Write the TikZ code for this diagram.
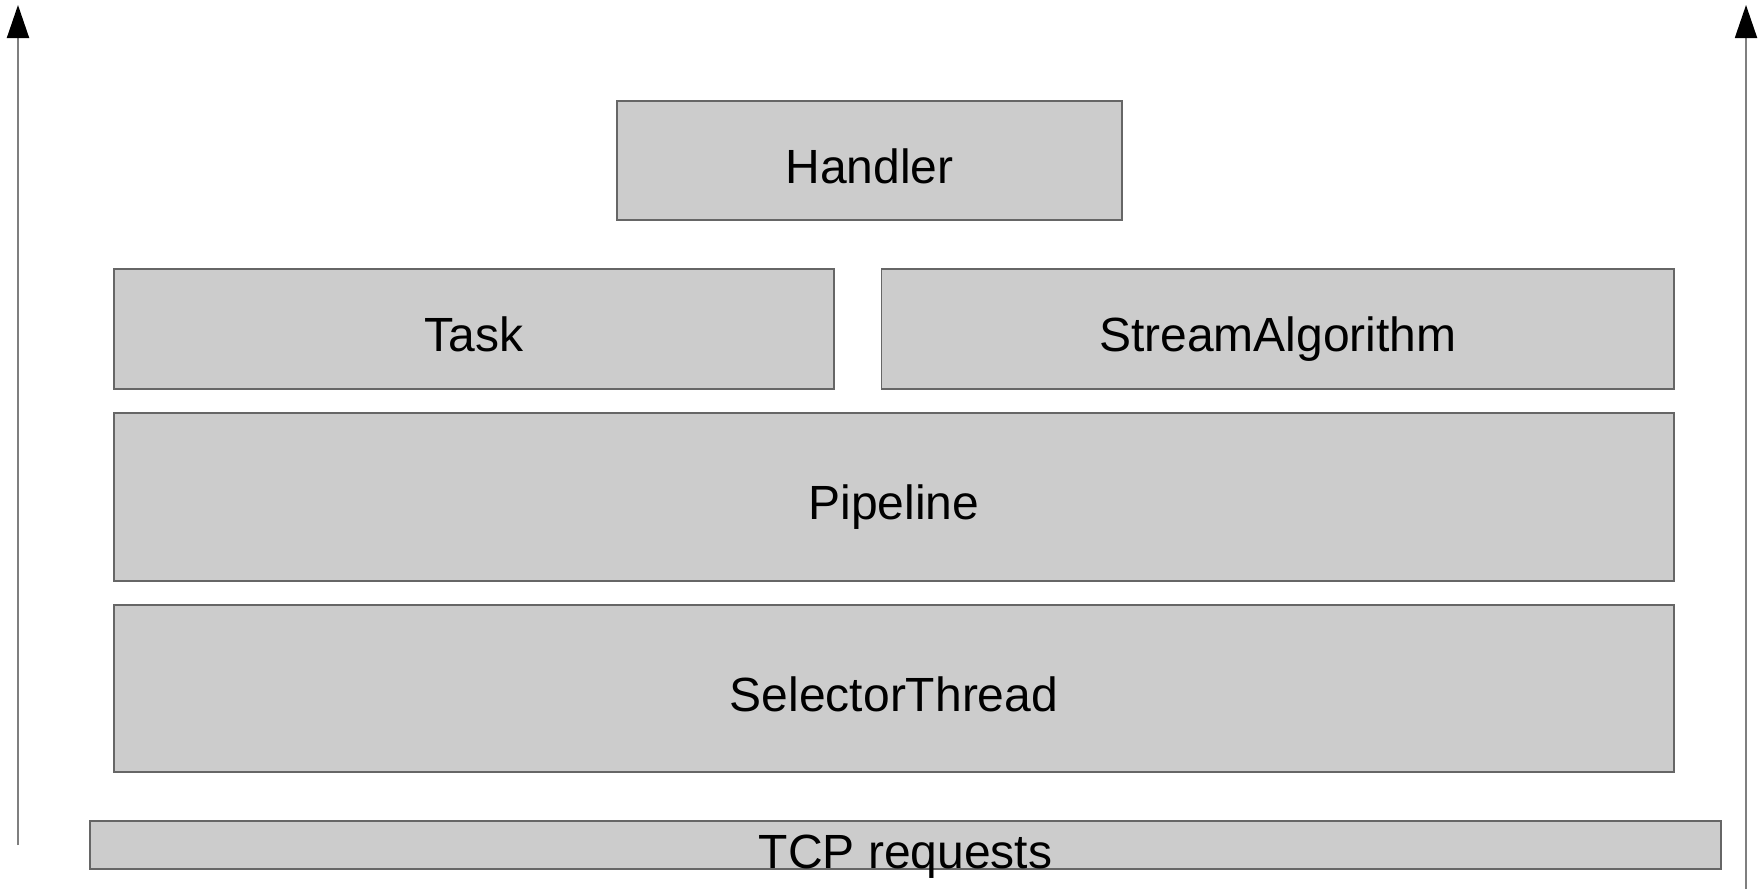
\documentclass[tikz,border=0pt]{standalone}
\usepackage{fontspec}
\setmainfont{Liberation Sans}
\usetikzlibrary{arrows.meta}
\definecolor{layerfill}{HTML}{CCCCCC}
\definecolor{layerline}{HTML}{666666}
\definecolor{axisline}{HTML}{7F7F7F}
\tikzset{
  layer/.style={draw=layerline, line width=1.5pt, fill=layerfill, rectangle,
    inner sep=0pt, text height=45.5pt, text depth=0pt,
    font=\fontsize{48pt}{54pt}\selectfont},
  flow/.style={draw=axisline, line width=2pt,
    -{Triangle[length=33pt,width=22pt,black]}}
}
\begin{document}
\begin{tikzpicture}[x=1pt,y=-1pt]
  \useasboundingbox (0,0) rectangle (1763,889);
  % stacked layers
  \node[layer, minimum width=505pt, minimum height=119pt] (handler) at (869.5,160.5) {Handler};
  \node[layer, minimum width=720pt, minimum height=120pt] (task) at (474,329) {Task};
  \node[layer, minimum width=792.5pt, minimum height=120pt] (stream) at (1277.75,329) {StreamAlgorithm};
  \node[layer, minimum width=1560pt, minimum height=168pt] (pipeline) at (894,497) {Pipeline};
  \node[layer, minimum width=1560pt, minimum height=167pt] (selector) at (894,688.5) {SelectorThread};
  \node[layer, minimum width=1631pt, minimum height=48pt, text height=46pt] (tcp) at (905.5,845) {TCP requests};
  % upward flow on both sides
  \coordinate (lbot) at (18,845);
  \coordinate (ltop) at (18,5);
  \coordinate (rbot) at (1746,889);
  \coordinate (rtop) at (1746,5);
  \draw[flow] (lbot) -- (ltop);
  \draw[flow] (rbot) -- (rtop);
\end{tikzpicture}
\end{document}
